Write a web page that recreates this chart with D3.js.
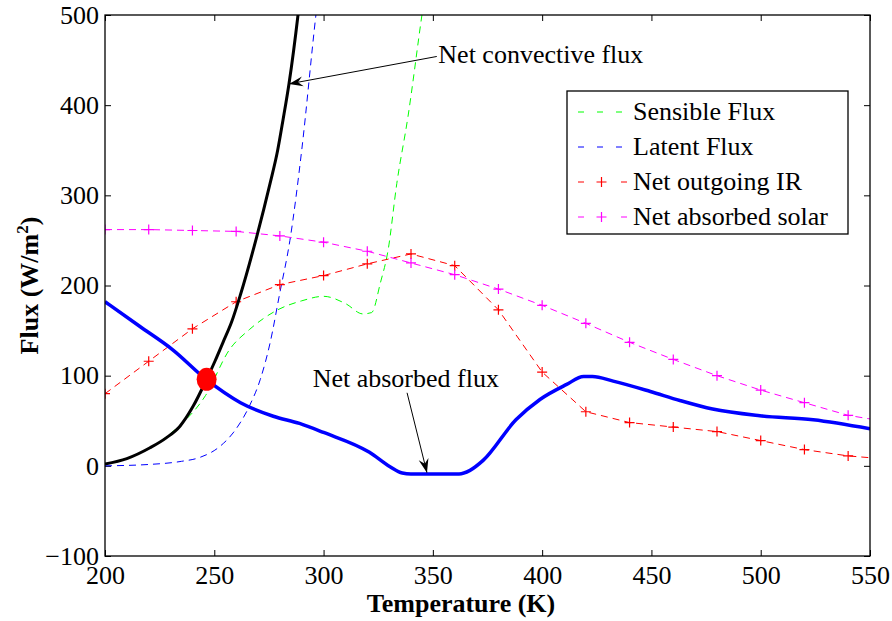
<!DOCTYPE html>
<html>
<head>
<meta charset="utf-8">
<script src="https://cdn.jsdelivr.net/npm/d3@7"></script>
<style>
  body { margin: 0; background: #fff; }
  svg { font-family: "Liberation Serif", "Times New Roman", serif; }
</style>
</head>
<body>
<svg id="chart"></svg>
<script>
// ---- data ----
const xTicks = [200, 250, 300, 350, 400, 450, 500, 550];
const yTicks = [-100, 0, 100, 200, 300, 400, 500];

const markerT = [200, 220, 240, 260, 280, 300, 320, 340, 360, 380, 400, 420, 440, 460, 480, 500, 520, 540, 550];
const solarValues = [262, 262, 261, 260, 255, 248, 238, 225, 212, 196, 178, 158, 137, 118, 100, 84, 70, 56, 52];
const irValues = [80, 116, 152, 182, 201, 211, 224, 235, 222, 173, 104, 60, 48, 43, 38, 28, 18, 11, 9];

const latentT = [200, 220, 235, 243, 252.6, 258.6, 266, 271, 275.5, 280, 284.6, 290, 296.5, 300];
const latentValues = [0, 1.5, 5, 9, 21.6, 36.5, 66, 95.5, 136, 192, 250, 350, 500, 570];

const sensibleT = [200, 220, 232, 246, 257, 266, 279, 290, 300, 310, 318, 322, 326, 329.5, 333.5, 338.6, 345, 348];
const sensibleValues = [2, 19, 40, 78, 129, 151, 173, 183, 188, 180, 168.5, 170, 203, 239, 313, 387, 500, 550];

const convT = [200, 210, 220.6, 228, 234.3, 240.3, 246.5, 250.3, 254, 258, 262, 269.4, 275.5, 279, 281.4, 284.2, 288.3, 291];
const convValues = [2, 8, 20, 31, 44, 66, 96, 116, 137, 160, 190, 254, 313, 350, 383, 424, 500, 560];

const absT = [200, 216, 231, 246.5, 262, 277, 289, 300, 321, 330.4, 336, 340, 362, 367, 373, 388, 399, 411, 419, 423, 432.5, 449.5, 463, 478, 499.6, 524, 550];
const absValues = [182, 154.5, 128.7, 95.5, 70, 55, 47, 37, 15, -1, -8, -9, -9, -5, 6, 51, 73.6, 90, 99, 99, 94, 82.5, 72.5, 63, 55.6, 51, 41];

const legendLabels = ['Sensible Flux', 'Latent Flux', 'Net outgoing IR', 'Net absorbed solar'];

// ---- layout ----
const W = 892, H = 621;
const margin = {top: 15, right: 22, bottom: 65, left: 105};
const width = W - margin.left - margin.right;
const height = H - margin.top - margin.bottom;
const fontSize = '26px';

const svg = d3.select('#chart').attr('width', W).attr('height', H);

svg.append('defs').append('clipPath').attr('id', 'clip')
  .append('rect').attr('width', width).attr('height', height);

const xScale = d3.scaleLinear().domain([200, 550]).range([0, width]);
const yScale = d3.scaleLinear().domain([-100, 500]).range([height, 0]);

const chart = svg.append('g').attr('transform', `translate(${margin.left},${margin.top})`);

// axes with inward ticks, mirrored top and right
const tickLen = 6;
const xAxisB = chart.append('g').attr('transform', `translate(0,${height})`)
  .call(d3.axisBottom(xScale).tickValues(xTicks).tickSizeInner(-tickLen).tickSizeOuter(0).tickPadding(10));
const xAxisT = chart.append('g')
  .call(d3.axisTop(xScale).tickValues(xTicks).tickSizeInner(-tickLen).tickSizeOuter(0).tickFormat(''));
const yAxisL = chart.append('g')
  .call(d3.axisLeft(yScale).tickValues(yTicks).tickSizeInner(-tickLen).tickSizeOuter(0).tickPadding(6)
    .tickFormat(d => d < 0 ? '\u2212' + Math.abs(d) : d));
const yAxisR = chart.append('g').attr('transform', `translate(${width},0)`)
  .call(d3.axisRight(yScale).tickValues(yTicks).tickSizeInner(-tickLen).tickSizeOuter(0).tickFormat(''));

[xAxisB, xAxisT, yAxisL, yAxisR].forEach(a => {
  a.select('.domain').remove();
  a.selectAll('line').attr('stroke', '#000').attr('stroke-width', 1);
  a.selectAll('text').attr('fill', '#000').style('font-size', fontSize)
    .style('font-family', '"Liberation Serif", serif');
});

const plot = chart.append('g').attr('clip-path', 'url(#clip)');

const smooth = d3.line().x(d => xScale(d[0])).y(d => yScale(d[1])).curve(d3.curveMonotoneX);
const straight = d3.line().x(d => xScale(d[0])).y(d => yScale(d[1]));
const zip = (a, b) => a.map((v, i) => [v, b[i]]);

// dashed series
plot.append('path').datum(zip(sensibleT, sensibleValues))
  .attr('d', smooth).attr('fill', 'none').attr('stroke', '#00ff00').attr('stroke-width', 1)
  .attr('stroke-dasharray', '7,5');
plot.append('path').datum(zip(latentT, latentValues))
  .attr('d', smooth).attr('fill', 'none').attr('stroke', '#0000ff').attr('stroke-width', 1)
  .attr('stroke-dasharray', '7,5');

const markerSeries = [
  {values: irValues, color: '#ff0000'},
  {values: solarValues, color: '#ff00ff'}
];
markerSeries.forEach(s => {
  const pts = zip(markerT, s.values);
  plot.append('path').datum(pts)
    .attr('d', straight).attr('fill', 'none').attr('stroke', s.color).attr('stroke-width', 1)
    .attr('stroke-dasharray', '7,5');
  plot.selectAll(null).data(pts.filter(d => d[0] < 550)).join('path')
    .attr('d', d => {
      const px = xScale(d[0]), py = yScale(d[1]);
      return `M${px - 5},${py}H${px + 5}M${px},${py - 5}V${py + 5}`;
    })
    .attr('stroke', s.color).attr('stroke-width', 1.2);
});

// thick solid lines
plot.append('path').datum(zip(convT, convValues))
  .attr('d', smooth).attr('fill', 'none').attr('stroke', '#000').attr('stroke-width', 3);
plot.append('path').datum(zip(absT, absValues))
  .attr('d', smooth).attr('fill', 'none').attr('stroke', '#0000ff').attr('stroke-width', 3.5);

// intersection dot
plot.append('ellipse')
  .attr('cx', xScale(246.5)).attr('cy', yScale(96))
  .attr('rx', 10).attr('ry', 11.5).attr('fill', '#ff0000');

// frame
chart.append('rect').attr('width', width).attr('height', height)
  .attr('fill', 'none').attr('stroke', '#000').attr('stroke-width', 1.3);

// annotations
function arrow(x1, y1, x2, y2) {
  const ax1 = xScale(x1), ay1 = yScale(y1), ax2 = xScale(x2), ay2 = yScale(y2);
  chart.append('line').attr('x1', ax1).attr('y1', ay1).attr('x2', ax2).attr('y2', ay2)
    .attr('stroke', '#000').attr('stroke-width', 1);
  const ang = Math.atan2(ay2 - ay1, ax2 - ax1);
  const L = 14, Wd = 5;
  const bx = ax2 - L * Math.cos(ang), by = ay2 - L * Math.sin(ang);
  const mx = ax2 - 0.65 * L * Math.cos(ang), my = ay2 - 0.65 * L * Math.sin(ang);
  const px = -Math.sin(ang) * Wd, py = Math.cos(ang) * Wd;
  chart.append('path')
    .attr('d', `M${ax2},${ay2}L${bx + px},${by + py}L${mx},${my}L${bx - px},${by - py}Z`)
    .attr('fill', '#000');
}
chart.append('text').attr('x', xScale(352.5)).attr('y', yScale(447))
  .style('font-size', fontSize).text('Net convective flux');
arrow(351.8, 454, 284.2, 423.6);

chart.append('text').attr('x', xScale(295)).attr('y', yScale(87))
  .style('font-size', fontSize).text('Net absorbed flux');
arrow(338.2, 81, 347.3, -7.6);

// legend
const legend = svg.append('g').attr('transform', 'translate(567,91)');
legend.append('rect').attr('width', 281).attr('height', 143)
  .attr('fill', '#fff').attr('stroke', '#000').attr('stroke-width', 1.3);
const legendStyles = [
  {color: '#00ff00', mark: false},
  {color: '#0000ff', mark: false},
  {color: '#ff0000', mark: true},
  {color: '#ff00ff', mark: true}
];
legendLabels.forEach((lab, i) => {
  const g = legend.append('g').attr('transform', `translate(0,${21 + i * 35})`);
  const mark = legendStyles[i].mark;
  g.append('line').attr('x1', 11).attr('x2', 60).attr('y1', 0).attr('y2', 0)
    .attr('stroke', legendStyles[i].color).attr('stroke-width', 1)
    .attr('stroke-dasharray', mark ? '6,37' : '6,13');
  if (mark) {
    g.append('path').attr('d', 'M29.5,0H39.5M34.5,-5V5')
      .attr('stroke', legendStyles[i].color).attr('stroke-width', 1.2);
  }
  g.append('text').attr('x', 66).attr('y', 8).style('font-size', fontSize).text(lab);
});

// axis titles
svg.append('text').attr('x', 461).attr('y', 612)
  .attr('text-anchor', 'middle').style('font-size', fontSize).style('font-weight', 'bold')
  .text('Temperature (K)');
const yt = svg.append('text')
  .attr('transform', `translate(38,${margin.top + yScale(200)}) rotate(-90)`)
  .attr('text-anchor', 'middle').style('font-size', fontSize).style('font-weight', 'bold');
yt.append('tspan').text('Flux (W/m');
yt.append('tspan').attr('dy', -10).style('font-size', '17px').text('2');
yt.append('tspan').attr('dy', 10).text(')');
</script>
</body>
</html>
